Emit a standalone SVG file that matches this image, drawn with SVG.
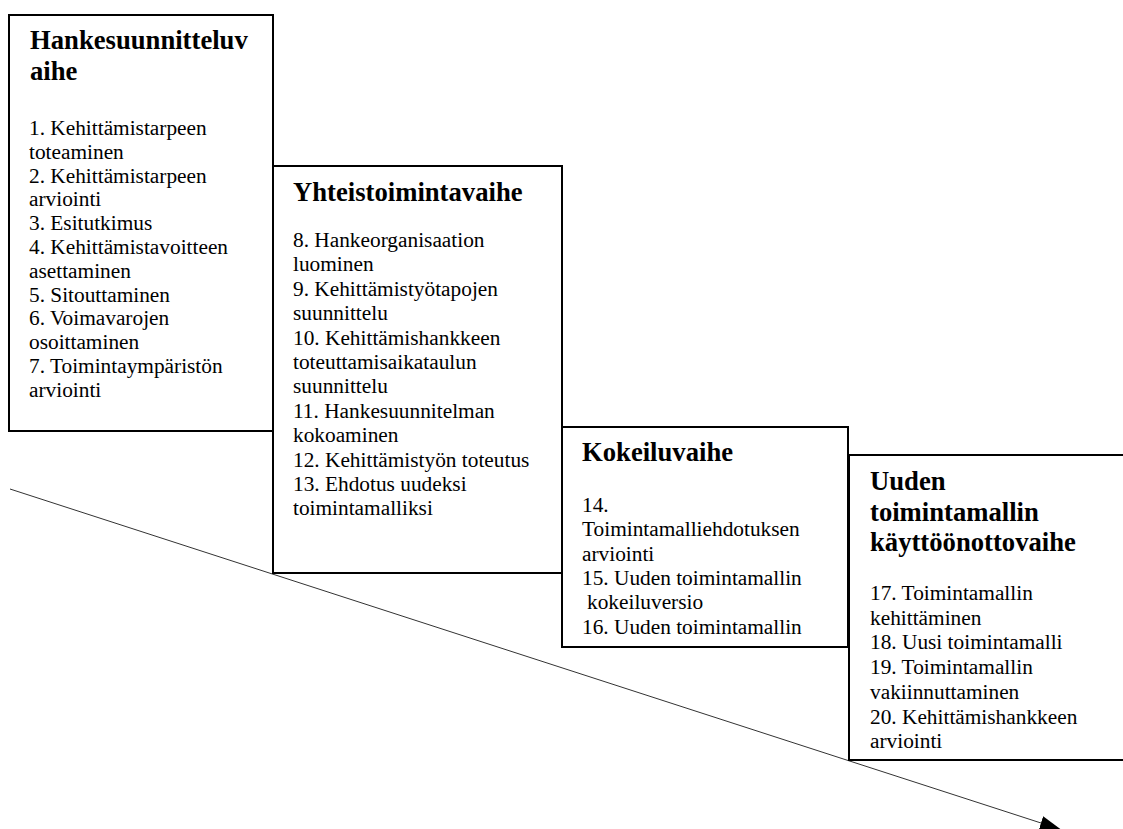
<svg xmlns="http://www.w3.org/2000/svg" width="1123" height="829" viewBox="0 0 1123 829">
<style>
.box{fill:#fff;stroke:#000;stroke-width:2}
.t{font-family:"Liberation Serif","Times New Roman",serif;font-weight:bold;font-size:26.67px;fill:#000}
.b{font-family:"Liberation Serif","Times New Roman",serif;font-size:21.33px;fill:#000}
.flow{stroke:#333;stroke-width:1;fill:none}
</style>
<defs>
<marker id="ah" markerUnits="userSpaceOnUse" markerWidth="22" markerHeight="16" refX="0" refY="7" orient="auto">
<path d="M0,0 L21,7 L0,14 z" fill="#000"/>
</marker>
</defs>
<rect width="1123" height="829" fill="#fff"/>
<g id="connectors">
<line class="flow" x1="10" y1="489" x2="1041" y2="823" marker-end="url(#ah)"/>
</g>
<g id="phase1">
<rect class="box" x="9" y="15" width="264" height="416"/>
<text class="t" x="30" y="49">Hankesuunnitteluv</text>
<text class="t" x="30" y="80">aihe</text>
<text class="b" x="29"><tspan x="29" y="135">1. Kehittämistarpeen</tspan><tspan x="29" y="158.8">toteaminen</tspan><tspan x="29" y="182.6">2. Kehittämistarpeen</tspan><tspan x="29" y="206.4">arviointi</tspan><tspan x="29" y="230.2">3. Esitutkimus</tspan><tspan x="29" y="254">4. Kehittämistavoitteen</tspan><tspan x="29" y="277.8">asettaminen</tspan><tspan x="29" y="301.6">5. Sitouttaminen</tspan><tspan x="29" y="325.4">6. Voimavarojen</tspan><tspan x="29" y="349.2">osoittaminen</tspan><tspan x="29" y="373">7. Toimintaympäristön</tspan><tspan x="29" y="396.8">arviointi</tspan></text>
</g>
<g id="phase2">
<rect class="box" x="273" y="166" width="289" height="407"/>
<text class="t" x="293" y="201">Yhteistoimintavaihe</text>
<text class="b"><tspan x="293" y="247">8. Hankeorganisaation</tspan><tspan x="293" y="271.4">luominen</tspan><tspan x="293" y="295.8">9. Kehittämistyötapojen</tspan><tspan x="293" y="320.2">suunnittelu</tspan><tspan x="293" y="344.6">10. Kehittämishankkeen</tspan><tspan x="293" y="369">toteuttamisaikataulun</tspan><tspan x="293" y="393.4">suunnittelu</tspan><tspan x="293" y="417.8">11. Hankesuunnitelman</tspan><tspan x="293" y="442.2">kokoaminen</tspan><tspan x="293" y="466.6">12. Kehittämistyön toteutus</tspan><tspan x="293" y="491">13. Ehdotus uudeksi</tspan><tspan x="293" y="515.4">toimintamalliksi</tspan></text>
</g>
<g id="phase3">
<rect class="box" x="562" y="427" width="286" height="220"/>
<text class="t" x="582" y="461">Kokeiluvaihe</text>
<text class="b"><tspan x="582" y="512">14.</tspan><tspan x="582" y="536.3">Toimintamalliehdotuksen</tspan><tspan x="582" y="560.6">arviointi</tspan><tspan x="582" y="584.9">15. Uuden toimintamallin</tspan><tspan x="587" y="609.2">kokeiluversio</tspan><tspan x="582" y="633.5">16. Uuden toimintamallin</tspan></text>
</g>
<g id="phase4">
<rect class="box" x="849" y="455" width="290" height="305"/>
<text class="t" x="870" y="490">Uuden</text>
<text class="t" x="870" y="521">toimintamallin</text>
<text class="t" x="870" y="551">käyttöönottovaihe</text>
<text class="b"><tspan x="870" y="600">17. Toimintamallin</tspan><tspan x="870" y="624.7">kehittäminen</tspan><tspan x="870" y="649.4">18. Uusi toimintamalli</tspan><tspan x="870" y="674.1">19. Toimintamallin</tspan><tspan x="870" y="698.8">vakiinnuttaminen</tspan><tspan x="870" y="723.5">20. Kehittämishankkeen</tspan><tspan x="870" y="748.2">arviointi</tspan></text>
</g>
</svg>
